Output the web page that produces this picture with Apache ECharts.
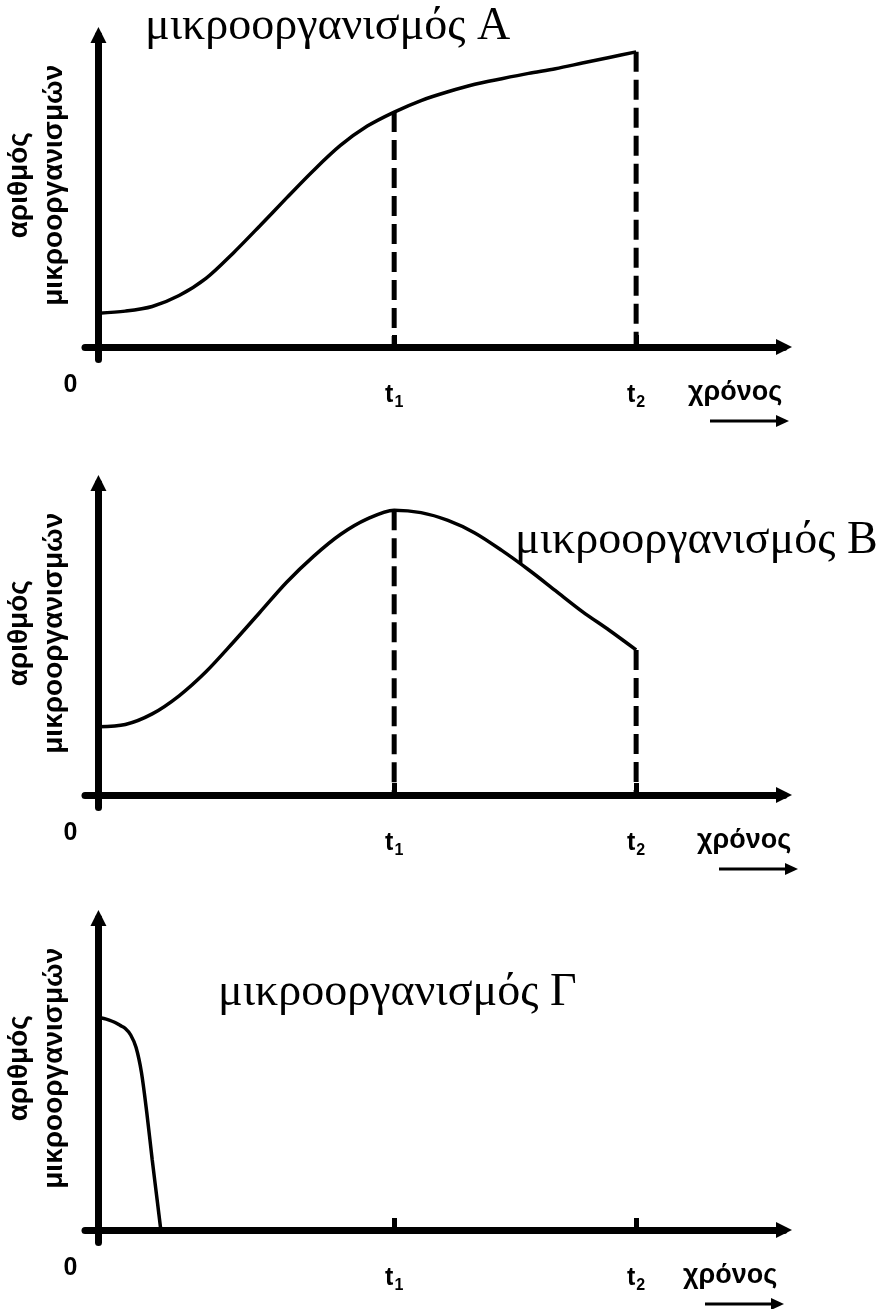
<!DOCTYPE html>
<html>
  <head>
    <meta charset="utf-8" />
    <title>μικροοργανισμοί</title>
    <script src="https://cdn.jsdelivr.net/npm/echarts@6.0.0/dist/echarts.min.js"></script>
  </head>
  <body style="margin: 0; padding: 0; border: 0; background: #fff">
    <div id="main" style="width: 882px; height: 1309px"></div>
    <script type="text/javascript">
      // marks on the time axis: 0, t1, t2
      var tickValues = [0, 5.5, 10];
      var tickNames = ["0", "t1", "t2"];
      var t1 = 5.5;
      var t2 = 10;

      var orgNames = ["μικροοργανισμός Α", "μικροοργανισμός Β", "μικροοργανισμός Γ"];
      var yName = "αριθμός\nμικροοργανισμών";
      var xName = "χρόνος";

      // curves (time, number)
      var timeA = [0, 0.5, 1, 1.5, 2, 2.5, 3, 3.5, 4, 4.5, 5, 5.5, 6, 6.5, 7, 7.5, 8, 8.5, 9, 9.5, 10];
      var countA = [10.8, 11.5, 13, 16.5, 22, 30, 38.8, 47.8, 56.6, 64.6, 70.8, 75.3, 79, 81.8, 84.2, 86, 87.7, 89.2, 91, 92.8, 94.6];

      var timeB = [0, 0.5, 1, 1.5, 2, 2.5, 3, 3.5, 4, 4.5, 5, 5.5, 6, 6.5, 7, 7.5, 8, 8.5, 9, 9.5, 10];
      var countB = [21.9, 22.6, 26, 31.8, 39.5, 48.8, 58.5, 68.2, 76.5, 83.5, 88.5, 91.3, 90.5, 88, 84, 78.4, 72.2, 65.5, 58.8, 52.8, 46.5];

      var timeC = [0, 0.1, 0.2, 0.3, 0.4, 0.5, 0.6, 0.7, 0.8, 0.9, 1, 1.1, 1.16];
      var countC = [68, 67.8, 67.3, 66.6, 65.6, 64.6, 62.5, 58.5, 50.5, 37.5, 22.5, 8.5, 0];

      var panels = [
        { time: timeA, count: countA, dashed: true },
        { time: timeB, count: countB, dashed: true },
        { time: timeC, count: countC, dashed: false },
      ];

      // layout
      var gridTops = [35, 483, 918];
      var axisYs = [347, 795, 1230];
      var titlePos = [
        [145, 4],
        [515, 518],
        [218, 970],
      ];
      var chronosX = [688, 697, 683];

      var sans = "Liberation Sans";

      function zip(xs, ys) {
        return xs.map(function (x, i) {
          return [x, ys[i]];
        });
      }

      var grids = [], xAxes = [], yAxes = [], series = [], titles = [], graphics = [];

      panels.forEach(function (p, i) {
        grids.push({
          left: 85,
          top: gridTops[i],
          width: 699,
          height: 324.5,
          outerBoundsMode: "none",
          containLabel: false,
        });

        xAxes.push({
          gridIndex: i,
          type: "value",
          min: -0.25,
          max: 12.75,
          axisLine: {
            onZero: true,
            symbol: ["none", "triangle"],
            symbolSize: [16, 16],
            lineStyle: { color: "#000", width: 7 },
          },
          axisTick: {
            show: true,
            customValues: [t1, t2],
            inside: true,
            length: 12,
            lineStyle: { color: "#000", width: 5 },
          },
          axisLabel: {
            customValues: tickValues,
            margin: 13,
            color: "#000",
            formatter: function (v) {
              var name = tickNames[tickValues.indexOf(v)];
              if (name === "0") return "{z|0}";
              return "{t|t}{s|" + name.slice(1) + "}";
            },
            rich: {
              z: { fontFamily: sans, fontWeight: "bold", fontSize: 25, padding: [0, 56, 0, 0], color: "#000" },
              t: { fontFamily: sans, fontWeight: "bold", fontSize: 25, lineHeight: 25, verticalAlign: "top", padding: [10, 0, 0, 0], color: "#000" },
              s: { fontFamily: sans, fontWeight: "bold", fontSize: 16, lineHeight: 16, verticalAlign: "top", padding: [22, 0, 0, 1], color: "#000" },
            },
          },
          splitLine: { show: false },
        });

        yAxes.push({
          gridIndex: i,
          type: "value",
          min: -4,
          max: 100,
          axisLine: {
            onZero: true,
            symbol: ["none", "triangle"],
            symbolSize: [16, 16],
            lineStyle: { color: "#000", width: 7 },
          },
          axisTick: { show: false },
          axisLabel: { show: false },
          splitLine: { show: false },
          name: yName,
          nameLocation: "middle",
          nameRotate: 90,
          nameGap: 13,
          nameTextStyle: {
            fontFamily: sans,
            fontWeight: "bold",
            fontSize: 28,
            lineHeight: 35,
            padding: [0, 0, 0, 24],
            color: "#000",
          },
        });

        series.push({
          type: "line",
          xAxisIndex: i,
          yAxisIndex: i,
          data: zip(p.time, p.count),
          smooth: 0.3,
          symbol: "none",
          lineStyle: { color: "#000", width: 3.5 },
          silent: true,
        });

        if (p.dashed) {
          [t1, t2].forEach(function (t) {
            var top = p.count[p.time.indexOf(t)];
            series.push({
              type: "line",
              xAxisIndex: i,
              yAxisIndex: i,
              data: [[t, top], [t, 0]],
              symbol: "none",
              lineStyle: { color: "#000", width: 5, type: [20, 8] },
              silent: true,
            });
          });
        }

        titles.push({
          text: orgNames[i],
          left: titlePos[i][0],
          top: titlePos[i][1],
          padding: 0,
          textStyle: {
            fontFamily: "Liberation Serif",
            fontWeight: "normal",
            fontSize: 46,
            lineHeight: 46,
            color: "#000",
          },
        });
        titles.push({
          text: xName,
          left: chronosX[i],
          top: axisYs[i] + 31,
          padding: 0,
          textStyle: {
            fontFamily: sans,
            fontWeight: "bold",
            fontSize: 27,
            lineHeight: 30,
            color: "#000",
          },
        });

        var ay = axisYs[i] + 74;
        var ax = chronosX[i] + 22;
        graphics.push({
          type: "group",
          children: [
            { type: "line", shape: { x1: ax, y1: ay, x2: ax + 68, y2: ay }, style: { stroke: "#000", lineWidth: 3 } },
            { type: "polygon", shape: { points: [[ax + 66, ay - 6], [ax + 79, ay], [ax + 66, ay + 6]] }, style: { fill: "#000" } },
          ],
        });
      });

      var myChart = echarts.init(document.getElementById("main"));
      myChart.setOption({
        backgroundColor: "#fff",
        animation: false,
        title: titles,
        grid: grids,
        xAxis: xAxes,
        yAxis: yAxes,
        series: series,
        graphic: graphics,
      });
    </script>
  </body>
</html>
